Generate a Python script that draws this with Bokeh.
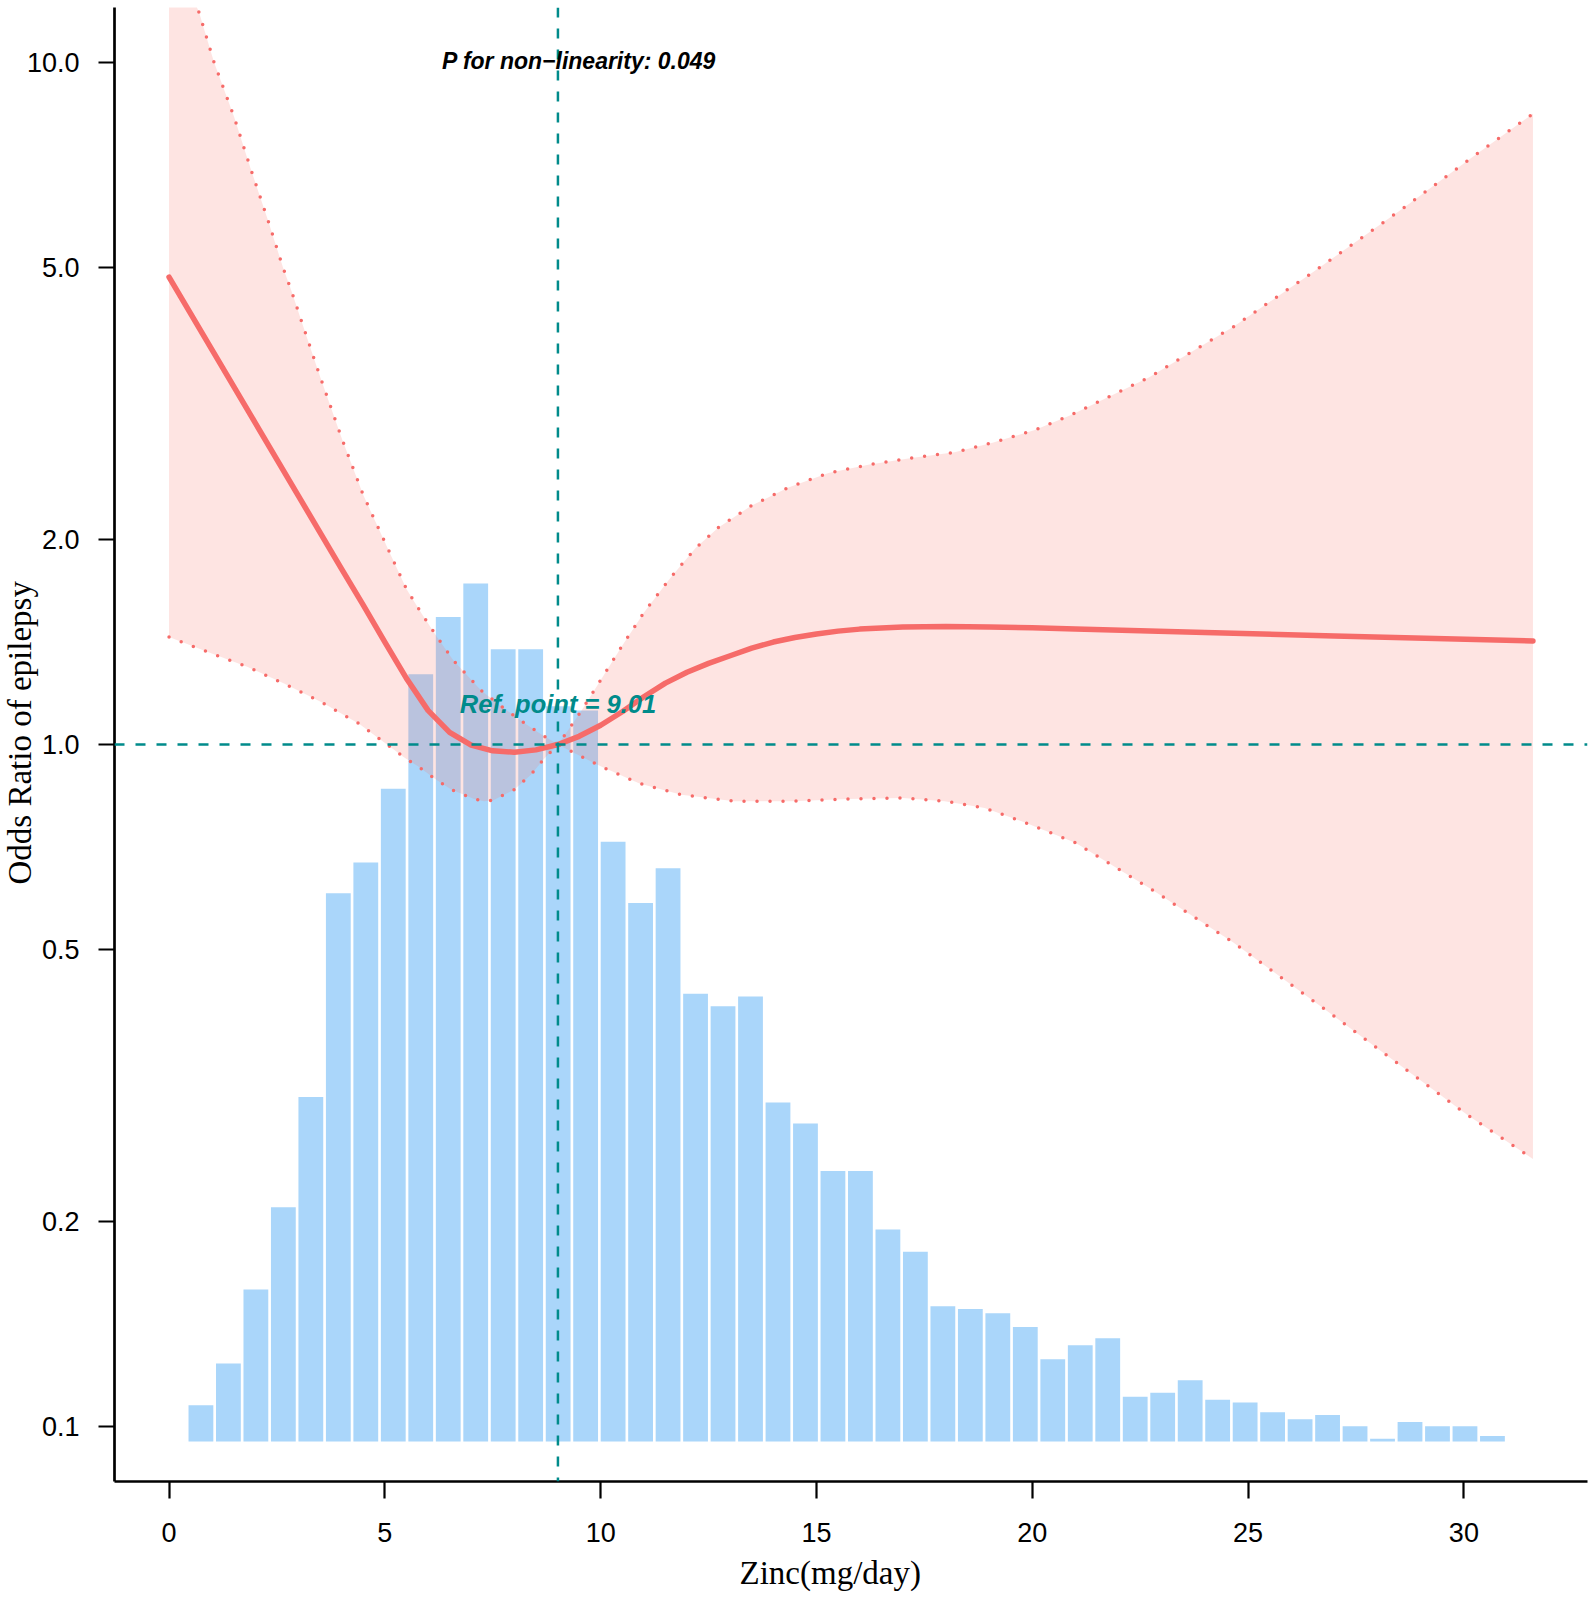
import numpy as np
from bokeh.plotting import figure
from bokeh.models import (Range1d, Span, Label, FixedTicker, CustomJSTickFormatter,
                          LinearScale, Title)
from bokeh.embed import file_html
from bokeh.resources import INLINE

# ---------------- data ----------------
curve_x = [0.0, 1.0, 2.0, 3.0, 4.0, 4.5, 5.0, 5.5, 6.0, 6.5, 7.0, 7.5, 8.0, 8.5,
           9.01, 9.5, 10.0, 10.5, 11.0, 11.5, 12.0, 12.5, 13.0, 13.5, 14.0, 14.5,
           15.0, 15.5, 16.0, 17.0, 18.0, 19.0, 20.0, 21.0, 24.0, 27.0, 31.6]
curve_or = [4.842, 3.784, 2.958, 2.312, 1.807, 1.600, 1.413, 1.250, 1.122, 1.042,
            0.998, 0.979, 0.974, 0.982, 1.0, 1.028, 1.067, 1.117, 1.175, 1.230,
            1.276, 1.315, 1.349, 1.384, 1.413, 1.435, 1.452, 1.466, 1.476, 1.486,
            1.489, 1.487, 1.483, 1.476, 1.459, 1.442, 1.418]

upper_x = [0.0, 0.7, 1.04, 1.51, 1.90, 2.29, 2.64, 2.83, 3.2, 3.5, 4.0, 4.5, 5.08,
           5.5, 5.84, 6.2, 6.58, 7.23, 7.7, 8.23, 8.6, 9.01, 9.25, 9.55, 9.85,
           10.48, 11.0, 11.6, 12.2, 12.73, 13.5, 14.35, 15.28, 16.2, 17.2, 18.2,
           19.1, 20.06, 20.9, 22.7, 24.65, 26.5, 28.6, 30.2, 31.6]
upper_or = [15.1, 11.8, 10.0, 8.30, 6.95, 5.87, 5.00, 4.63, 3.94, 3.46, 2.81, 2.32,
            1.93, 1.69, 1.56, 1.44, 1.33, 1.20, 1.137, 1.075, 1.037, 1.0, 1.05,
            1.12, 1.20, 1.39, 1.56, 1.75, 1.94, 2.08, 2.24, 2.38, 2.50, 2.57, 2.63,
            2.68, 2.77, 2.89, 3.04, 3.45, 4.09, 4.92, 6.11, 7.26, 8.40]

lower_x = [0.0, 0.9, 1.81, 2.69, 3.57, 4.41, 5.19, 5.45, 5.77, 6.2, 6.54, 7.07,
           7.3, 7.5, 8.0, 8.39, 8.69, 9.01, 9.39, 10.0, 10.9, 11.87, 13.1, 14.4,
           15.74, 17.0, 17.97, 18.9, 19.8, 21.0, 22.75, 24.65, 26.76, 28.6, 30.1,
           31.6]
lower_or = [1.437, 1.366, 1.30, 1.226, 1.15, 1.072, 0.985, 0.957, 0.929, 0.887,
            0.859, 0.832, 0.826, 0.828, 0.859, 0.904, 0.953, 1.0, 0.972, 0.929,
            0.877, 0.844, 0.826, 0.826, 0.832, 0.835, 0.826, 0.807, 0.770, 0.718,
            0.614, 0.513, 0.410, 0.336, 0.286, 0.247]

# histogram of zinc intake (share of participants, %), 48 equal bins
hist_pct = [0.26, 0.56, 1.09, 1.68, 2.47, 3.93, 4.15, 4.68, 5.50, 5.91, 6.15, 5.68,
            5.68, 5.27, 5.24, 4.30, 3.86, 4.11, 3.21, 3.12, 3.19, 2.43, 2.28, 1.94,
            1.94, 1.52, 1.36, 0.97, 0.95, 0.92, 0.82, 0.59, 0.69, 0.74, 0.32, 0.35,
            0.44, 0.30, 0.28, 0.21, 0.16, 0.19, 0.11, 0.02, 0.14, 0.11, 0.11, 0.04]
hist_min = 0.42
hist_max = 30.98

ref_point = 9.01
p_nonlinear = "0.049"

x_ticks = [0, 5, 10, 15, 20, 25, 30]
y_ticks = [0.1, 0.2, 0.5, 1.0, 2.0, 5.0, 10.0]

# ---------------- styles ----------------
RED = "#F66B69"
RIBBON = "#F8766D"
BAR = "#AAD6FA"
TEAL = "#008B8B"
SANS = "Liberation Sans"
SERIF = "Liberation Serif"

x_lo, x_hi = -1.264, 32.864
y_lo, y_hi = 10 ** -1.08, 10 ** 1.08

p = figure(width=1595, height=1607,
           x_range=Range1d(x_lo, x_hi), y_range=Range1d(y_lo, y_hi),
           y_axis_type="log", output_backend="svg", toolbar_location=None,
           min_border_left=114, min_border_right=8, min_border_top=7,
           min_border_bottom=126, background_fill_color="white",
           border_fill_color="white")
p.outline_line_color = None
p.grid.grid_line_color = None

# hidden linear scale for the histogram
p.extra_y_ranges = {"hist": Range1d(-0.2867, 10.28)}
p.extra_y_scales = {"hist": LinearScale()}

edges = np.linspace(hist_min, hist_max, len(hist_pct) + 1)
gap = 0.031  # half of the white gap between bars, in x units
p.quad(left=edges[:-1] + gap, right=edges[1:] - gap, bottom=0, top=hist_pct,
       y_range_name="hist", fill_color=BAR, line_color=None)

# confidence band
band_x = list(upper_x) + list(lower_x[::-1])
band_y = list(upper_or) + list(lower_or[::-1])
p.patch(band_x, band_y, fill_color=RIBBON, fill_alpha=0.2, line_color=None)

p.line(upper_x, upper_or, line_color=RED, line_width=3.5, line_dash="0 13",
       line_cap="round", line_join="round")
p.line(lower_x, lower_or, line_color=RED, line_width=3.5, line_dash="0 13",
       line_cap="round", line_join="round")
p.line(curve_x, curve_or, line_color=RED, line_width=5.5, line_cap="round",
       line_join="round")

p.add_layout(Span(location=ref_point, dimension="height", line_color=TEAL,
                  line_width=2.5, line_dash="10 11"))
p.add_layout(Span(location=1.0, dimension="width", line_color=TEAL,
                  line_width=2.5, line_dash="10 11"))

p.add_layout(Label(x=9.5, y=10.05, text="P for non\u2212linearity: " + p_nonlinear,
                   text_font=SANS, text_font_style="bold italic",
                   text_font_size="23px", text_color="black",
                   text_align="center", text_baseline="alphabetic"))
p.add_layout(Label(x=ref_point, y=1.148, text=f"Ref. point = {ref_point}",
                   text_font=SANS, text_font_style="bold italic",
                   text_font_size="25.5px", text_color=TEAL,
                   text_align="center", text_baseline="alphabetic"))

# axes
for ax in (p.xaxis[0], p.yaxis[0]):
    ax.axis_line_width = 2.7
    ax.axis_line_color = "black"
    ax.major_tick_line_width = 2.2
    ax.major_tick_line_color = "black"
    ax.major_tick_in = 0
    ax.minor_tick_line_color = None
    ax.major_label_text_font = SANS
    ax.major_label_text_font_size = "27px"
    ax.major_label_text_color = "black"

p.xaxis.ticker = FixedTicker(ticks=x_ticks)
p.xaxis.major_tick_out = 17
p.xaxis.major_label_standoff = 24

p.yaxis.ticker = FixedTicker(ticks=y_ticks)
p.yaxis.formatter = CustomJSTickFormatter(code="return tick.toFixed(1);")
p.yaxis.major_tick_out = 16
p.yaxis.major_label_standoff = 19

# axis titles (placed as titles so they can sit slightly off-centre as in the original)
p.add_layout(Title(text="Zinc(mg/day)", align="left", offset=625, standoff=16,
                   vertical_align="bottom",
                   text_font=SERIF, text_font_size="33px", text_font_style="normal",
                   text_color="black"), "below")
p.add_layout(Title(text="Odds Ratio of epilepsy", align="left", offset=597,
                   standoff=-32, vertical_align="top", text_font=SERIF,
                   text_font_size="33px", text_font_style="normal",
                   text_color="black"), "left")

open("out.html", "w").write(file_html(p, INLINE, title="Zinc and epilepsy"))
